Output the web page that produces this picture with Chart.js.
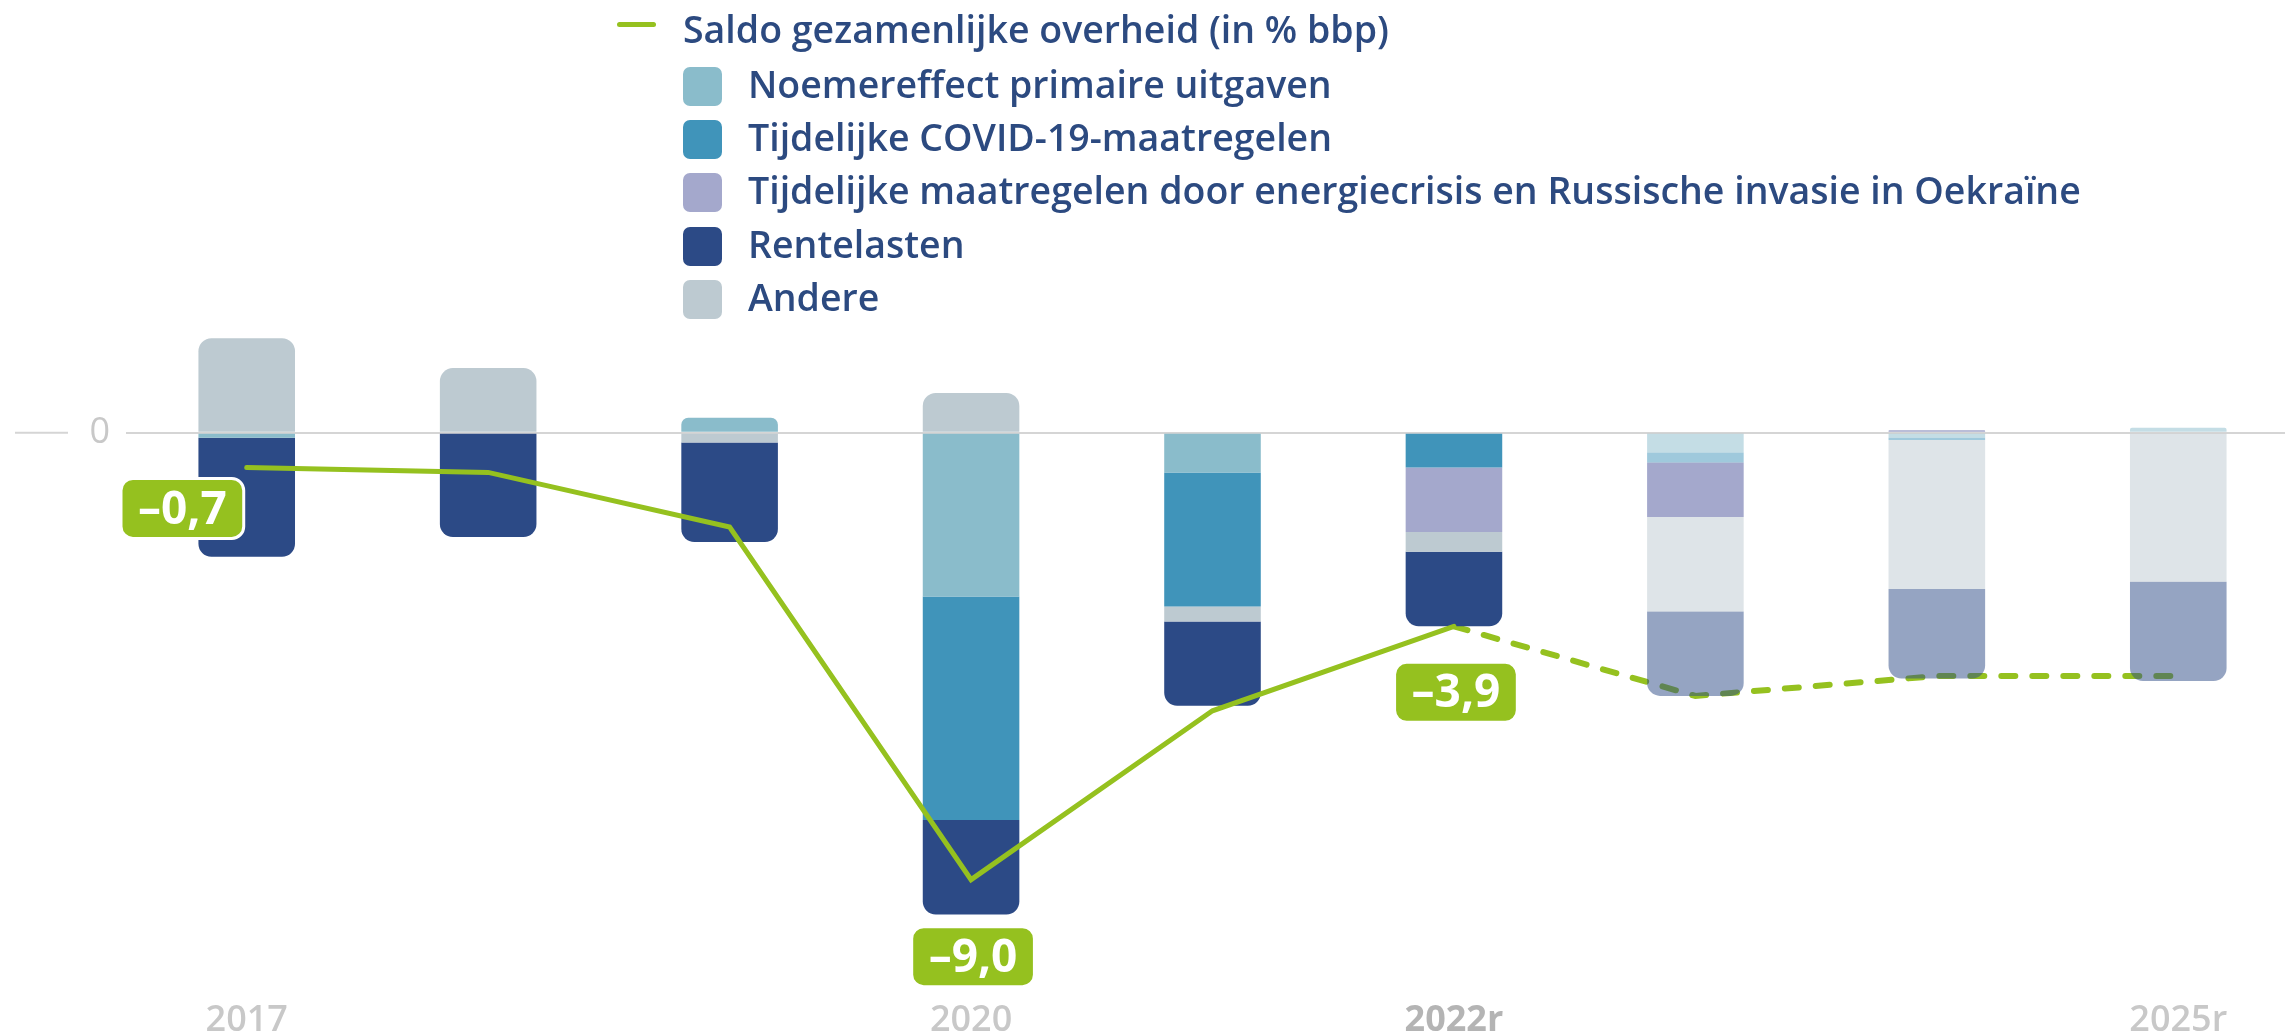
<!DOCTYPE html>
<html lang="nl">
<head>
<meta charset="utf-8">
<title>Saldo gezamenlijke overheid</title>
<script src="https://cdn.jsdelivr.net/npm/chart.js@4.4.1/dist/chart.umd.min.js"></script>
<style>
  html, body { margin: 0; padding: 0; background: #fff; overflow: hidden; }
  #wrap { position: relative; width: 2299px; height: 1036px; }
  #chart { position: absolute; left: 0; top: 0; }
  #legend { position: absolute; left: 0; top: 0; font-family: 'Open Sans', sans-serif;
            font-weight: 600; font-size: 37.5px; color: #2c4a80; }
  .lg-row { position: absolute; white-space: nowrap; line-height: 53px; height: 53px; }
  .lg-line { position: absolute; width: 39px; height: 5px; border-radius: 3px; }
  .lg-box { position: absolute; width: 39px; height: 39px; border-radius: 7px; }
</style>
</head>
<body>
<div id="wrap">
  <canvas id="chart" width="2299" height="1036"></canvas>
  <div id="legend"></div>
</div>
<script>
'use strict'

// --- data (in % bbp) ---
var categories = ['2017', '2018', '2019', '2020', '2021', '2022r', '2023r', '2024r', '2025r'];
var shownYears = ['2017', '2020', '2022r', '2025r'];

var noemereffect = [-0.1, 0, 0.3, -3.3, -0.8, 0, -0.4, -0.1, 0.1];
var covid = [0, 0, 0, -4.5, -2.7, -0.7, -0.2, -0.05, 0];
var energie = [0, 0, 0, 0, 0, -1.3, -1.1, 0.05, 0];
var andere = [1.9, 1.3, -0.2, 0.8, -0.3, -0.4, -1.9, -3.0, -3.0];
var rentelasten = [-2.4, -2.1, -2.0, -1.9, -1.7, -1.5, -1.7, -1.8, -2.0];
var saldo = [-0.7, -0.8, -1.9, -9.0, -5.6, -3.9, -5.3, -4.9, -4.9];

var labelledPoints = [0, 3, 5];
var lastRealised = 5;   // 2022r, after this the line is dashed and bars are faded

var labelSaldo = 'Saldo gezamenlijke overheid (in % bbp)';
var labelNoemer = 'Noemereffect primaire uitgaven';
var labelCovid = 'Tijdelijke COVID-19-maatregelen';
var labelEnergie = 'Tijdelijke maatregelen door energiecrisis en Russische invasie in Oekraïne';
var labelRente = 'Rentelasten';
var labelAndere = 'Andere';

var colSaldo = '#95c11f';
var colNoemer = '#8abccb';
var colCovid = '#4094ba';
var colEnergie = '#a4a8cc';
var colRente = '#2c4a86';
var colAndere = '#bdcad1';

Chart.defaults.font.family = "'Open Sans', sans-serif";

function fade(hex, a) {
    var r = parseInt(hex.substr(1, 2), 16);
    var g = parseInt(hex.substr(3, 2), 16);
    var b = parseInt(hex.substr(5, 2), 16);
    return 'rgba(' + r + ',' + g + ',' + b + ',' + a + ')';
}

function barSet(label, data, color, order, fadeForecast) {
    return {
        type: 'bar',
        label: label,
        data: data,
        order: order,
        stack: 'deel',
        backgroundColor: function (ctx) {
            if (fadeForecast && ctx.dataIndex > lastRealised) {
                return fade(color, 0.5);
            }
            return color;
        },
        borderWidth: 0,
        borderRadius: 13,
        borderSkipped: 'start',
        barPercentage: 0.4,
        categoryPercentage: 1,
    };
}

var saldoSolid = saldo.map(function (v, i) { return i <= lastRealised ? v : null; });
var saldoDashed = saldo.map(function (v, i) { return i >= lastRealised ? v : null; });

function formatValue(v) {
    var s = Math.abs(v).toFixed(1).replace('.', ',');
    return (v < 0 ? '\u2013' : '') + s;
}

// short stroke left of the "0" label
var zeroDash = {
    id: 'zeroDash',
    afterDraw: function (chart) {
        var y = chart.scales.y.getPixelForValue(0);
        var ctx = chart.ctx;
        ctx.save();
        ctx.strokeStyle = '#d5d5d5';
        ctx.lineWidth = 2;
        ctx.beginPath();
        ctx.moveTo(15, y);
        ctx.lineTo(68, y);
        ctx.stroke();
        ctx.restore();
    }
};

// green value boxes on the balance line
var saldoLabels = {
    id: 'saldoLabels',
    afterDatasetsDraw: function (chart, args, opts) {
        var meta = chart.getDatasetMeta(0);
        var ctx = chart.ctx;
        ctx.save();
        ctx.font = 'bold 46px "Open Sans"';
        labelledPoints.forEach(function (i, k) {
            var pt = meta.data[i];
            var text = formatValue(saldo[i]);
            var w = ctx.measureText(text).width + 34;
            var h = 60;
            var place = opts.place[k];
            var x = place.side === 'left' ? pt.x + place.dx - w : pt.x + place.dx - w / 2;
            var y = pt.y + place.dy;
            ctx.beginPath();
            ctx.roundRect(x, y, w, h, 12);
            ctx.fillStyle = colSaldo;
            ctx.fill();
            ctx.lineWidth = 3;
            ctx.strokeStyle = '#ffffff';
            ctx.stroke();
            ctx.fillStyle = '#ffffff';
            ctx.textAlign = 'center';
            ctx.textBaseline = 'middle';
            ctx.fillText(text, x + w / 2, y + h / 2 + 2);
        });
        ctx.restore();
    }
};

var chartConfig = {
    type: 'bar',
    data: {
        labels: categories,
        datasets: [
            {
                type: 'line',
                label: labelSaldo,
                data: saldoSolid,
                order: 0,
                stack: 'saldo',
                borderColor: colSaldo,
                borderWidth: 5,
                borderCapStyle: 'round',
                borderJoinStyle: 'miter',
                pointRadius: 0,
                fill: false,
                tension: 0,
            },
            {
                type: 'line',
                label: labelSaldo,
                data: saldoDashed,
                order: 9,
                stack: 'saldoRaming',
                borderColor: colSaldo,
                borderWidth: 6,
                borderDash: [14, 17],
                borderCapStyle: 'round',
                pointRadius: 0,
                fill: false,
                tension: 0,
            },
            barSet(labelNoemer, noemereffect, colNoemer, 1, true),
            barSet(labelCovid, covid, colCovid, 2, true),
            barSet(labelEnergie, energie, colEnergie, 3, false),
            barSet(labelAndere, andere, colAndere, 4, true),
            barSet(labelRente, rentelasten, colRente, 5, true),
        ]
    },
    options: {
        responsive: false,
        animation: false,
        layout: {
            padding: { top: 234, left: 0, right: 0, bottom: 0 }
        },
        plugins: {
            legend: { display: false },
            tooltip: { enabled: false },
            saldoLabels: {
                place: [
                    { side: 'left', dx: -3, dy: 11 },
                    { side: 'center', dx: 2, dy: 47 },
                    { side: 'center', dx: 2, dy: 36 },
                ]
            }
        },
        scales: {
            x: {
                stacked: true,
                offset: true,
                grid: { display: false, drawTicks: false },
                border: { display: false },
                afterFit: function (s) { s.height = 57; },
                ticks: {
                    autoSkip: false,
                    maxRotation: 0,
                    padding: 20,
                    font: function (ctx) {
                        return { size: 36, weight: categories[ctx.index] === '2022r' ? 'bold' : '600' };
                    },
                    color: function (ctx) {
                        return categories[ctx.index] === '2022r' ? '#b4b4b4' : '#c8c8c8';
                    },
                    callback: function (v, i) {
                        var c = categories[i];
                        return shownYears.indexOf(c) >= 0 ? c : '';
                    }
                }
            },
            y: {
                stacked: true,
                min: -11,
                max: 4,
                afterBuildTicks: function (s) { s.ticks = [{ value: 0 }]; },
                afterFit: function (s) { s.width = 126; },
                grid: { color: '#d5d5d5', lineWidth: 2, drawTicks: false },
                border: { display: false },
                ticks: {
                    color: '#c8c8c8',
                    font: { size: 36 },
                    padding: 16,
                    callback: function (v) { return String(v); }
                }
            }
        }
    },
    plugins: [zeroDash, saldoLabels]
};

var chartObj = new Chart(document.getElementById('chart'), chartConfig);

// legend: one column, line first, then the bar components
function buildLegend() {
    var box = document.getElementById('legend');
    var row = document.createElement('div');
    row.className = 'lg-row';
    row.style.left = '683px';
    row.style.top = '2px';
    row.textContent = labelSaldo;
    box.appendChild(row);
    var mark = document.createElement('div');
    mark.className = 'lg-line';
    mark.style.left = '617px';
    mark.style.top = '22px';
    mark.style.background = colSaldo;
    box.appendChild(mark);

    var names = [labelNoemer, labelCovid, labelEnergie, labelRente, labelAndere];
    var colors = [colNoemer, colCovid, colEnergie, colRente, colAndere];
    for (var k = 0; k < names.length; k++) {
        var top = 57 + k * 53.2;
        var r = document.createElement('div');
        r.className = 'lg-row';
        r.style.left = '748px';
        r.style.top = top + 'px';
        r.textContent = names[k];
        box.appendChild(r);
        var sq = document.createElement('div');
        sq.className = 'lg-box';
        sq.style.left = '683px';
        sq.style.top = (top + 10) + 'px';
        sq.style.background = colors[k];
        box.appendChild(sq);
    }
}

buildLegend();
</script>
</body>
</html>
